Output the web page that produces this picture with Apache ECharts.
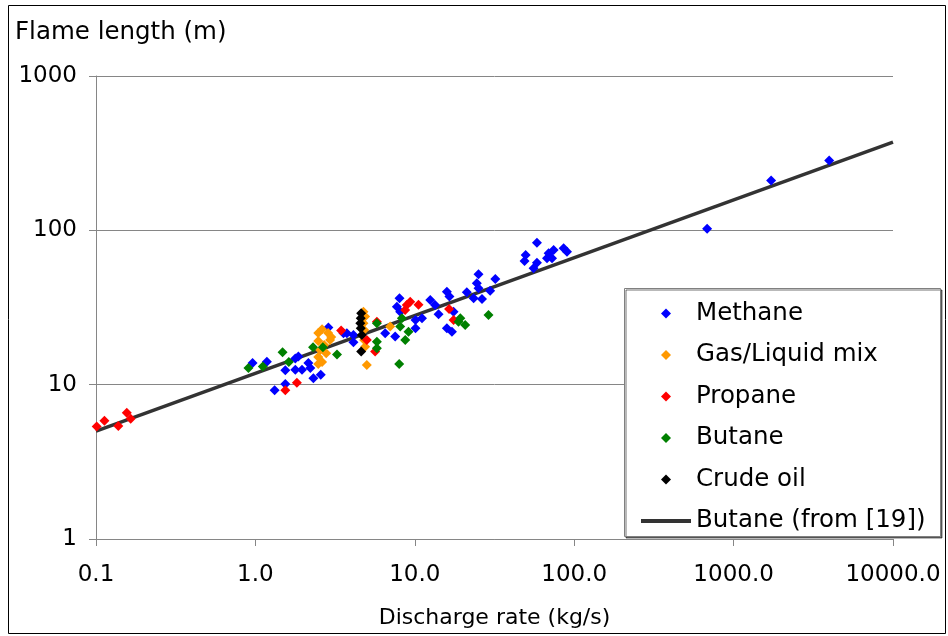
<!DOCTYPE html>
<html>
<head>
<meta charset="utf-8">
<script src="https://cdn.jsdelivr.net/npm/echarts@6/dist/echarts.min.js"></script>
<style>
  html, body { margin: 0; padding: 0; background: #fff; }
  #chart { width: 948px; height: 636px; }
</style>
</head>
<body>
<div id="chart"></div>
<script>
// Flame length versus discharge rate, by fuel type, log-log axes.
// Each point is [discharge rate (kg/s), flame length (m)].
const methane = [
  [0.96, 13.8], [1.18, 14.1], [1.32, 9.2], [1.54, 12.4], [1.54, 10.1],
  [1.78, 14.8], [1.86, 15.2], [1.78, 12.5], [1.96, 12.5], [2.15, 13.8],
  [2.21, 12.8], [2.31, 11.0], [2.57, 11.6], [2.87, 23.5], [3.57, 21.5],
  [3.75, 21.5], [4.12, 21.0], [4.12, 18.8],
  [6.52, 21.5], [7.53, 20.5], [8.02, 36.3], [7.72, 32.0], [8.10, 29.7],
  [10.1, 26.2], [10.1, 23.2], [11.1, 26.9], [12.5, 35.4], [13.4, 32.8],
  [14.1, 28.6], [15.9, 40.0], [16.5, 37.2], [17.5, 29.7], [15.9, 23.2],
  [17.1, 22.0], [21.2, 39.7], [23.4, 36.3], [26.4, 35.9], [24.5, 45.4],
  [25.1, 42.1], [25.1, 51.9], [29.7, 40.6], [32.0, 48.4],
  [48.8, 63.3], [49.6, 69.2], [58.4, 83.2], [58.4, 61.7], [55.6, 56.8],
  [67.5, 65.9], [69.1, 71.0], [72.6, 65.9], [74.3, 74.6], [85.8, 76.5],
  [90.1, 72.7], [682, 102.5], [1719, 210], [3977, 283]
];
const gasLiquidMix = [
  [2.48, 21.6], [2.62, 22.9], [2.86, 21.6], [2.99, 20.4], [2.48, 19.2],
  [2.70, 18.1], [2.55, 16.8], [2.78, 16.0], [2.48, 15.1], [2.62, 14.0],
  [2.48, 13.6], [2.94, 19.5], [4.76, 29.7], [4.88, 27.6], [4.76, 25.0],
  [4.81, 22.6], [4.81, 19.5], [4.88, 17.6], [5.00, 13.4], [7.01, 23.8]
];
const propane = [
  [0.101, 5.35], [0.113, 5.84], [0.138, 5.40], [0.156, 6.58], [0.165, 6.02],
  [1.54, 9.19], [1.82, 10.3], [3.45, 22.4], [5.78, 25.6], [5.00, 19.5],
  [5.64, 16.4], [8.7, 30.5], [8.9, 32.8], [9.36, 34.5], [10.55, 33.0],
  [16.4, 30.9], [17.5, 26.2]
];
const butane = [
  [0.904, 12.8], [1.113, 13.1], [1.48, 16.2], [1.62, 14.0], [2.30, 17.5],
  [2.65, 17.5], [3.25, 15.7], [5.78, 25.0], [5.78, 19.0], [5.78, 17.2],
  [7.98, 13.6], [8.30, 26.9], [8.10, 23.8], [8.71, 19.5], [9.13, 22.0],
  [18.8, 25.6], [19.3, 26.9], [20.7, 24.4], [29.0, 28.3]
];
const crudeOil = [
  [4.61, 29.0], [4.58, 26.9], [4.55, 25.0], [4.58, 23.2], [4.65, 21.0], [4.61, 16.4]
];
// Correlation for butane: straight line on log-log axes
const butaneRef = [[0.1, 5.0], [10000, 373]];

const FONT = 'Verdana, "DejaVu Sans", sans-serif';
const AXIS_GRAY = '#868686';
const LINE_ICON = 'path://M0,0 L50,0 L50,4 L0,4 Z';
const DIAMOND_ICON = 'path://M5,0 L10,5 L5,10 L0,5 Z';

const chart = echarts.init(document.getElementById('chart'), null, { renderer: 'canvas' });

function scatter(name, data, color) {
  return {
    name, type: 'scatter', data,
    symbol: 'diamond', symbolSize: 10,
    itemStyle: { color, opacity: 1 },
    z: 3
  };
}

chart.setOption({
  animation: false,
  backgroundColor: '#fff',
  textStyle: { fontFamily: FONT },
  graphic: [
    {
      type: 'rect', silent: true, z: -1,
      shape: { x: 8.5, y: 5.5, width: 937, height: 628 },
      style: { fill: 'none', stroke: '#000', lineWidth: 1 }
    },
    {
      type: 'text', left: 15, top: 20,
      style: { text: 'Flame length (m)', fill: '#000', font: '24.5px ' + FONT }
    },
    {
      // legend frame
      type: 'rect', silent: true, z: 10,
      shape: { x: 624.5, y: 288.5, width: 316, height: 248 },
      style: {
        fill: '#fff', stroke: '#808080', lineWidth: 1,
        shadowColor: 'rgba(0,0,0,0.55)', shadowOffsetX: 1.5, shadowOffsetY: 1.5, shadowBlur: 0
      }
    }
  ],
  grid: { left: 96, top: 76, width: 797, height: 463, containLabel: false },
  xAxis: {
    type: 'log', logBase: 10, min: 0.1, max: 10000,
    name: 'Discharge rate (kg/s)',
    nameLocation: 'middle', nameGap: 68,
    nameTextStyle: { color: '#000', fontSize: 22, fontFamily: FONT },
    axisLine: { lineStyle: { color: AXIS_GRAY, width: 1 } },
    axisTick: { show: true, inside: false, length: 7, lineStyle: { color: AXIS_GRAY } },
    axisLabel: {
      color: '#000', fontSize: 23, fontFamily: FONT, margin: 25,
      formatter: v => Number(v).toFixed(1)
    },
    splitLine: { show: false }
  },
  yAxis: {
    type: 'log', logBase: 10, min: 1, max: 1000,
    axisLine: { show: true, lineStyle: { color: AXIS_GRAY, width: 1 } },
    axisTick: { show: true, inside: false, length: 7, lineStyle: { color: AXIS_GRAY } },
    axisLabel: {
      color: '#000', fontSize: 23, fontFamily: FONT, margin: 19,
      formatter: v => String(Math.round(v))
    },
    splitLine: { show: true, lineStyle: { color: AXIS_GRAY, width: 1 } }
  },
  legend: {
    orient: 'vertical',
    left: 624, top: 288,
    padding: [13, 8, 10, 17],
    itemWidth: 50, itemHeight: 10, itemGap: 16.5,
    symbolKeepAspect: true,
    backgroundColor: 'transparent', borderWidth: 0,
    z: 20,
    textStyle: { color: '#000', fontSize: 24.5, fontFamily: FONT },
    data: [
      { name: 'Methane', icon: DIAMOND_ICON },
      { name: 'Gas/Liquid mix', icon: DIAMOND_ICON },
      { name: 'Propane', icon: DIAMOND_ICON },
      { name: 'Butane', icon: DIAMOND_ICON },
      { name: 'Crude oil', icon: DIAMOND_ICON },
      { name: 'Butane (from [19])', icon: LINE_ICON, itemStyle: { color: '#333333' } }
    ]
  },
  series: [
    {
      name: 'Butane (from [19])', type: 'line', data: butaneRef,
      symbol: 'none', showSymbol: false,
      lineStyle: { color: '#333333', width: 3.5 },
      itemStyle: { color: '#333333' },
      z: 2
    },
    scatter('Methane', methane, '#0000ff'),
    scatter('Gas/Liquid mix', gasLiquidMix, '#ff9900'),
    scatter('Propane', propane, '#ff0000'),
    scatter('Butane', butane, '#008000'),
    scatter('Crude oil', crudeOil, '#000000')
  ]
});
</script>
</body>
</html>
